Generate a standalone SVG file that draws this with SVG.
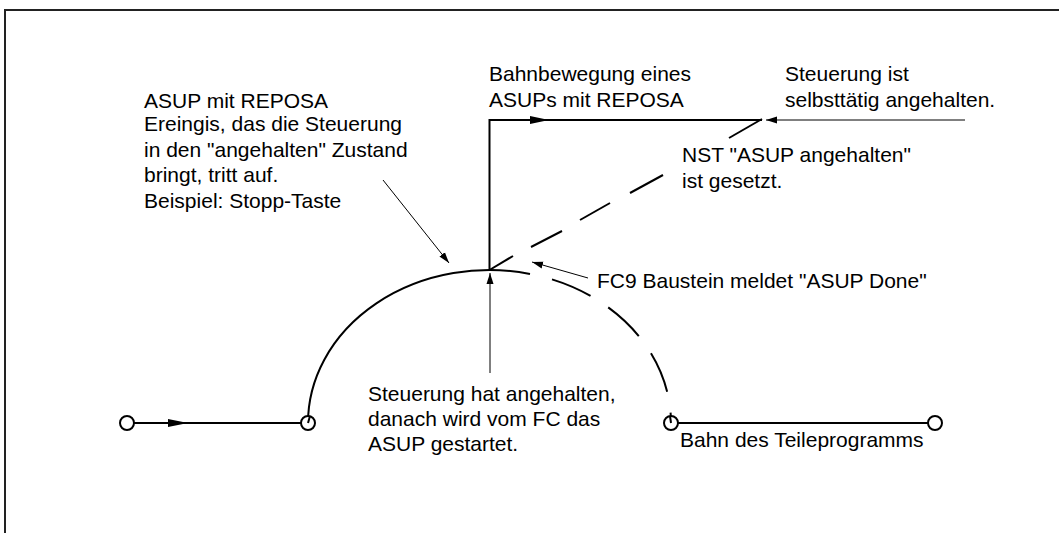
<svg xmlns="http://www.w3.org/2000/svg" width="1059" height="533" viewBox="0 0 1059 533">
<style>
.frame{fill:none;stroke:#222;stroke-width:2}
.path{fill:none;stroke:#000;stroke-width:2}
.dash{fill:none;stroke:#000;stroke-width:2;stroke-dasharray:42 21}
.lead{fill:none;stroke:#000;stroke-width:1}
.head{fill:#000;stroke:none}
.pt{fill:#fff;stroke:#000;stroke-width:2}
text{font-family:"Liberation Sans",Arial,sans-serif;font-size:21px;fill:#000}
</style>
<defs>
<marker id="ah" markerWidth="12" markerHeight="8" refX="11" refY="4" orient="auto" markerUnits="userSpaceOnUse">
<path d="M0,0.5 L11,4 L0,7.5 Z" fill="#000"/>
</marker>
</defs>
<path class="frame" d="M5,533 V10 H1059"/>
<g id="connectors">
<line class="path" x1="134" y1="423" x2="301" y2="423"/>
<polygon class="head" points="168,419 188,423 168,427"/>
<path class="path" d="M308,423 A181.5,153 0 0 1 530,273.9"/>
<path class="dash" d="M552,279.4 A181.5,153 0 0 1 671,423"/>
<path class="path" d="M489.5,271 V120 H762"/>
<polygon class="head" points="530,116 549,120 530,124"/>
<line class="path" x1="489.5" y1="270" x2="513" y2="256"/>
<line class="path" x1="531" y1="247" x2="562" y2="231"/>
<line class="path" x1="580" y1="220" x2="610" y2="203"/>
<line class="path" x1="630" y1="193" x2="663" y2="175"/>
<line class="path" x1="729" y1="138" x2="762" y2="119"/>
<line class="path" x1="678" y1="423" x2="928" y2="423"/>
<line class="lead" x1="383" y1="180" x2="449" y2="263" marker-end="url(#ah)"/>
<line class="lead" x1="490" y1="373" x2="490" y2="273" marker-end="url(#ah)"/>
<line class="lead" x1="588" y1="278" x2="532" y2="262" marker-end="url(#ah)"/>
<line class="lead" x1="965" y1="120" x2="766" y2="120" marker-end="url(#ah)"/>
</g>
<g id="n-start"><circle class="pt" cx="127" cy="423" r="7"/></g>
<g id="n-arcstart"><circle class="pt" cx="308" cy="423" r="7"/><line class="path" x1="308" y1="423" x2="310" y2="416"/></g>
<g id="n-arcend"><circle class="pt" cx="671" cy="423" r="7"/><line class="path" x1="671" y1="423" x2="670" y2="416"/></g>
<g id="n-end"><circle class="pt" cx="935" cy="423" r="7"/></g>
<g id="t-asup">
<text x="144" y="108">ASUP mit REPOSA</text>
<text x="144" y="131">Ereingis, das die Steuerung</text>
<text x="144" y="157">in den "angehalten" Zustand</text>
<text x="144" y="182">bringt, tritt auf.</text>
<text x="144" y="208">Beispiel: Stopp-Taste</text>
</g>
<g id="t-bahnbewegung">
<text x="489" y="81">Bahnbewegung eines</text>
<text x="489" y="107">ASUPs mit REPOSA</text>
</g>
<g id="t-selbst">
<text x="785" y="81">Steuerung ist</text>
<text x="785" y="107">selbsttätig angehalten.</text>
</g>
<g id="t-nst">
<text x="682" y="162">NST "ASUP angehalten"</text>
<text x="682" y="188">ist gesetzt.</text>
</g>
<g id="t-fc9"><text x="597" y="288">FC9 Baustein meldet "ASUP Done"</text></g>
<g id="t-hat">
<text x="368" y="401">Steuerung hat angehalten,</text>
<text x="368" y="426">danach wird vom FC das</text>
<text x="368" y="451">ASUP gestartet.</text>
</g>
<g id="t-bahn"><text x="680" y="447">Bahn des Teileprogramms</text></g>
</svg>
